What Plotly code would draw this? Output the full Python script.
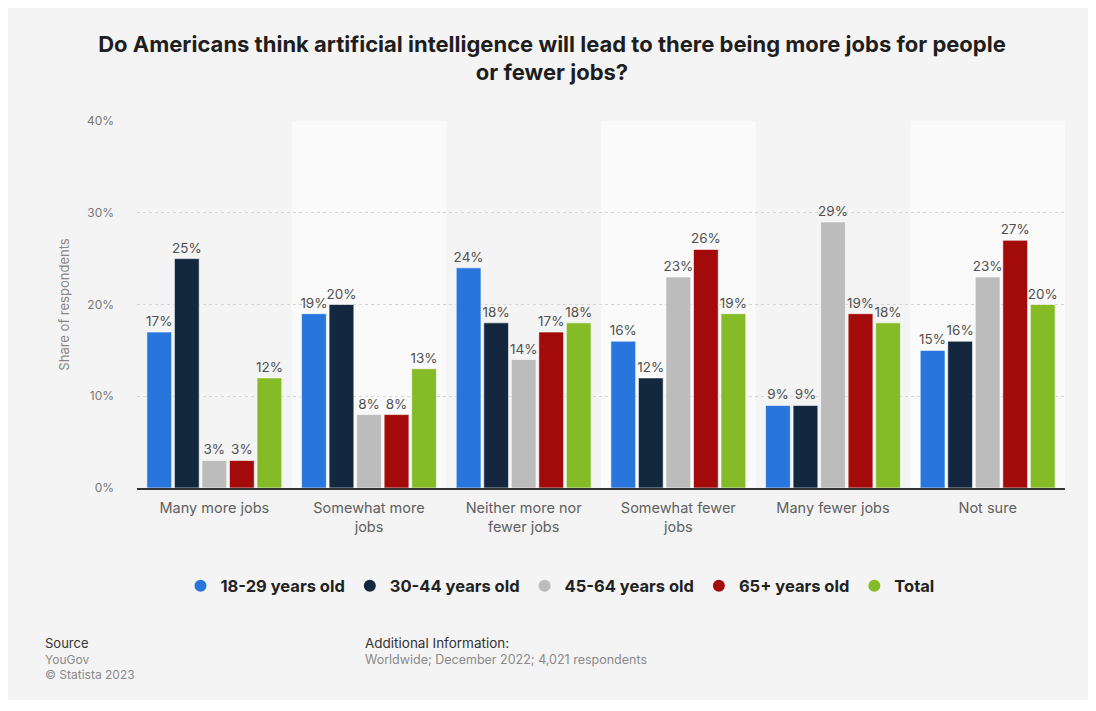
import plotly.graph_objects as go

categories = ["Many more jobs", "Somewhat more<br>jobs", "Neither more nor<br>fewer jobs",
              "Somewhat fewer<br>jobs", "Many fewer jobs", "Not sure"]
series_names = ["18-29 years old", "30-44 years old", "45-64 years old", "65+ years old", "Total"]
v_18_29 = [17, 19, 24, 16, 9, 15]
v_30_44 = [25, 20, 18, 12, 9, 16]
v_45_64 = [3, 8, 14, 23, 29, 23]
v_65 = [3, 8, 17, 26, 19, 27]
v_total = [12, 13, 18, 19, 18, 20]
y_ticks = [0, 10, 20, 30, 40]
y_tick_labels = ["0%", "10%", "20%", "30%", "40%"]

series_values = [v_18_29, v_30_44, v_45_64, v_65, v_total]
colors = ["#2876dd", "#13283f", "#bcbcbc", "#a30b0b", "#85bb26"]

FONT = "Inter, Liberation Sans, Arial, sans-serif"
OFF = 8  # page body margin
W, H = 1088, 692
L, T = 137 - OFF, 121 - OFF
R = W - (1065 - OFF)
B = H - (488 - OFF)
pw, ph = W - L - R, H - T - B

def px(x):
    return (x - OFF - L) / pw

def py(y):
    return (H - B - (y - OFF)) / ph

fig = go.Figure()
for name, vals, col in zip(series_names, series_values, colors):
    fig.add_trace(go.Bar(
        x=categories, y=vals, name=name, showlegend=False,
        marker=dict(color=col, line=dict(color="rgba(255,255,255,0.6)", width=1)),
        text=[f"{v}%" for v in vals], textposition="outside",
        textfont=dict(family=FONT, size=13.5, color="#505050"),
        constraintext="none", cliponaxis=False, hoverinfo="skip",
    ))
for name, col in zip(series_names, colors):
    fig.add_trace(go.Scatter(
        x=[None], y=[None], mode="markers", name=name,
        marker=dict(symbol="circle", size=16, color=col),
    ))

shapes = []
for i in (1, 3, 5):
    shapes.append(dict(type="rect", xref="x", yref="y", x0=i - 0.5, x1=i + 0.5, y0=0, y1=40,
                       fillcolor="#fafafa", line=dict(width=0), layer="below"))

def note(text, x, y, size, color):
    return dict(text=text, x=px(x), y=py(y), xref="paper", yref="paper", xanchor="left",
                yanchor="middle", showarrow=False, font=dict(family=FONT, size=size, color=color))

annotations = [
    note("Source", 43, 643, 13, "#333333"),
    note("YouGov", 43, 659, 12, "#8a8a8a"),
    note("© Statista 2023", 43, 674, 12, "#8a8a8a"),
    note("Additional Information:", 363, 643, 13.5, "#333333"),
    note("Worldwide; December 2022; 4,021 respondents", 363, 659, 12.5, "#8a8a8a"),
]

fig.update_layout(
    width=W, height=H,
    margin=dict(l=L, r=R, t=T, b=B, autoexpand=False),
    paper_bgcolor="#f4f4f4", plot_bgcolor="rgba(0,0,0,0)",
    font=dict(family=FONT),
    title=dict(text="<b>Do Americans think artificial intelligence will lead to there being more jobs for people<br>or fewer jobs?</b>",
               x=0.5, xanchor="center", y=1 - (51.5 - OFF) / H, yanchor="middle",
               font=dict(family=FONT, size=22, color="#1e1e1e")),
    barmode="group", bargap=0.11, bargroupgap=0.1,
    shapes=shapes, annotations=annotations,
    showlegend=True,
    legend=dict(orientation="h", x=px(560), xanchor="center",
                y=py(586), yanchor="middle",
                font=dict(size=16.5, color="#222222", family=FONT, weight="bold"),
                bgcolor="rgba(0,0,0,0)", itemsizing="constant"),
    xaxis=dict(showgrid=False, showline=True, linecolor="#333333", linewidth=1.5,
               tickfont=dict(family=FONT, size=14.5, color="#606060"), ticks="", range=[-0.5, 5.5],
               ticklabelstandoff=6),
    yaxis=dict(range=[0, 40], tickvals=y_ticks, ticktext=y_tick_labels, showgrid=True,
               gridcolor="#d6d6d6", griddash="dot", gridwidth=1, zeroline=False,
               tickfont=dict(family=FONT, size=12, color="#777777"), ticks="", ticklabelstandoff=22,
               title=dict(text="Share of respondents", font=dict(family=FONT, size=13, color="#888888"), standoff=14)),
)

fig.write_html("out.html")
